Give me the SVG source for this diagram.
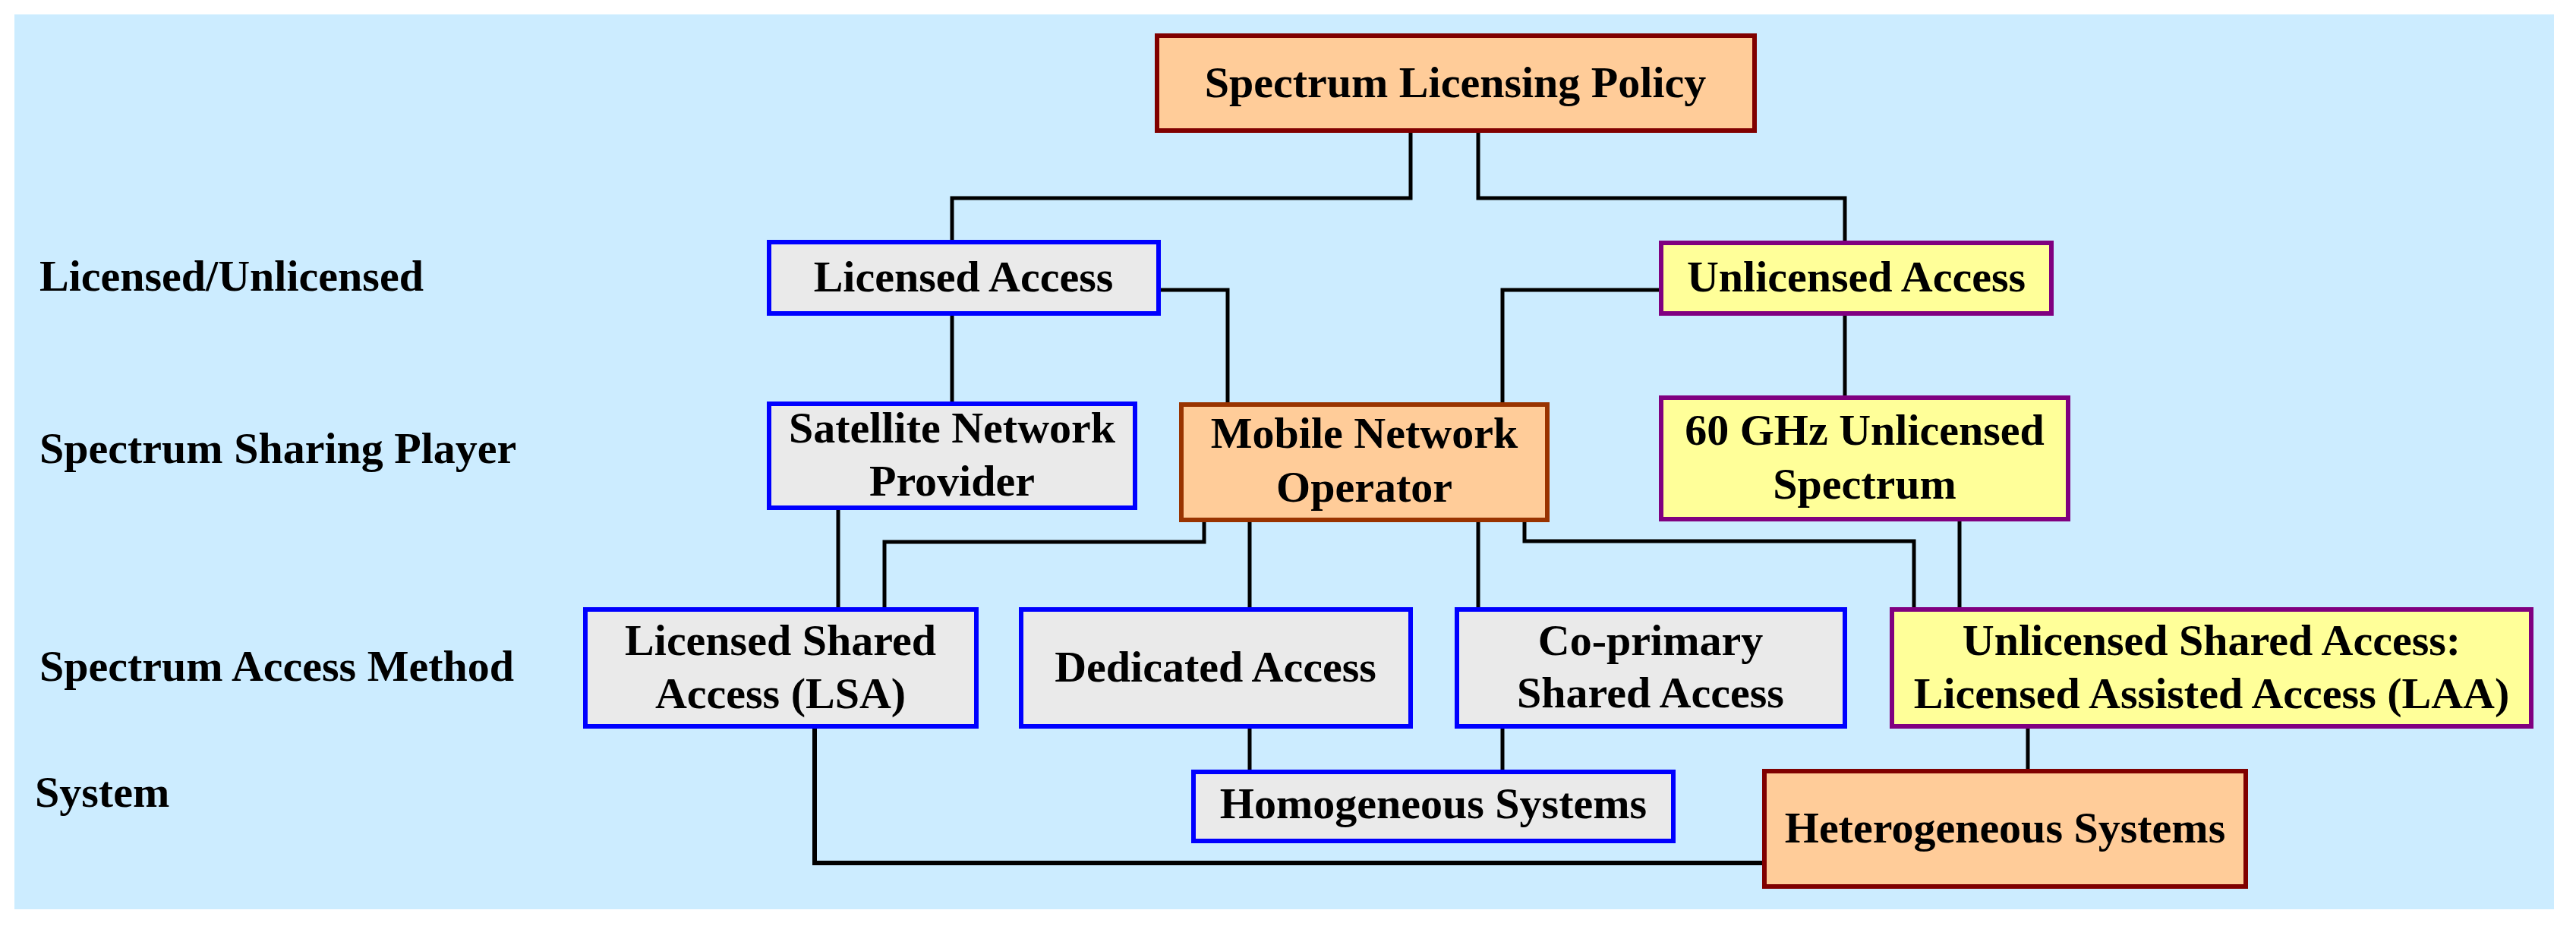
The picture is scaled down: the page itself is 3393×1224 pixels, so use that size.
<svg xmlns="http://www.w3.org/2000/svg" width="3393" height="1224" viewBox="0 0 3393 1224">
<style>
  text { font-family: "Liberation Serif", "Times New Roman", serif; font-weight: bold; font-size: 58px; fill: #000; }
  .c { text-anchor: middle; }
  .box { stroke-width: 6; }
  .gray { fill: #EAEAEA; stroke: #0000FF; }
  .peach { fill: #FFCC99; stroke: #800000; }
  .mno { fill: #FFCC99; stroke: #993300; }
  .yellow { fill: #FFFF99; stroke: #800080; }
  .conn path { fill: none; stroke: #000; stroke-width: 5; stroke-linejoin: miter; }
</style>
<rect x="0" y="0" width="3393" height="1224" fill="#FFFFFF"/>
<rect x="19" y="19" width="3345" height="1179" fill="#CCECFF"/>

<g id="row-labels">
  <text x="52" y="383">Licensed/Unlicensed</text>
  <text x="52" y="610">Spectrum Sharing Player</text>
  <text x="52" y="897">Spectrum Access Method</text>
  <text x="46" y="1063">System</text>
</g>

<g class="conn" id="connectors">
  <path d="M1858,172 V261 H1254 V319"/>
  <path d="M1947,172 V261 H2430 V320"/>
  <path d="M1254,413 V532"/>
  <path d="M1526,382 H1617 V533"/>
  <path d="M2188,382 H1979 V533"/>
  <path d="M2430,413 V524"/>
  <path d="M1104,669 V803"/>
  <path d="M1586,685 V714 H1165 V803"/>
  <path d="M1646,685 V803"/>
  <path d="M1947,685 V805"/>
  <path d="M2008,685 V713 H2521 V803"/>
  <path d="M2581,684 V803"/>
  <path d="M1073,957 V1137 H2324" style="stroke-width:6"/>
  <path d="M1646,957 V1017"/>
  <path d="M1979,957 V1017"/>
  <path d="M2671,957 V1016"/>
</g>

<g id="policy">
  <rect class="box peach" x="1524" y="47" width="787" height="125"/>
  <text class="c" x="1917" y="128">Spectrum Licensing Policy</text>
</g>
<g id="licensed-access">
  <rect class="box gray" x="1013" y="319" width="513" height="94"/>
  <text class="c" x="1269" y="384">Licensed Access</text>
</g>
<g id="unlicensed-access">
  <rect class="box yellow" x="2188" y="320" width="514" height="93"/>
  <text class="c" x="2445" y="384">Unlicensed Access</text>
</g>
<g id="satellite">
  <rect class="box gray" x="1013" y="532" width="482" height="137"/>
  <text class="c" x="1254" y="583">Satellite Network</text>
  <text class="c" x="1254" y="653">Provider</text>
</g>
<g id="mno">
  <rect class="box mno" x="1556" y="533" width="482" height="152"/>
  <text class="c" x="1797" y="590">Mobile Network</text>
  <text class="c" x="1797" y="661">Operator</text>
</g>
<g id="ghz60">
  <rect class="box yellow" x="2188" y="524" width="536" height="160"/>
  <text class="c" x="2456" y="586">60 GHz Unlicensed</text>
  <text class="c" x="2456" y="657">Spectrum</text>
</g>
<g id="lsa">
  <rect class="box gray" x="771" y="803" width="515" height="154"/>
  <text class="c" x="1028" y="863">Licensed Shared</text>
  <text class="c" x="1028" y="933">Access (LSA)</text>
</g>
<g id="dedicated">
  <rect class="box gray" x="1345" y="803" width="513" height="154"/>
  <text class="c" x="1601" y="898">Dedicated Access</text>
</g>
<g id="coprimary">
  <rect class="box gray" x="1919" y="803" width="511" height="154"/>
  <text class="c" x="2174" y="863">Co-primary</text>
  <text class="c" x="2174" y="932">Shared Access</text>
</g>
<g id="laa">
  <rect class="box yellow" x="2492" y="803" width="842" height="154"/>
  <text class="c" x="2913" y="863">Unlicensed Shared Access:</text>
  <text class="c" x="2913" y="933">Licensed Assisted Access (LAA)</text>
</g>
<g id="homogeneous">
  <rect class="box gray" x="1572" y="1017" width="632" height="91"/>
  <text class="c" x="1888" y="1078">Homogeneous Systems</text>
</g>
<g id="heterogeneous">
  <rect class="box peach" x="2324" y="1016" width="634" height="152"/>
  <text class="c" x="2641" y="1110">Heterogeneous Systems</text>
</g>
</svg>
